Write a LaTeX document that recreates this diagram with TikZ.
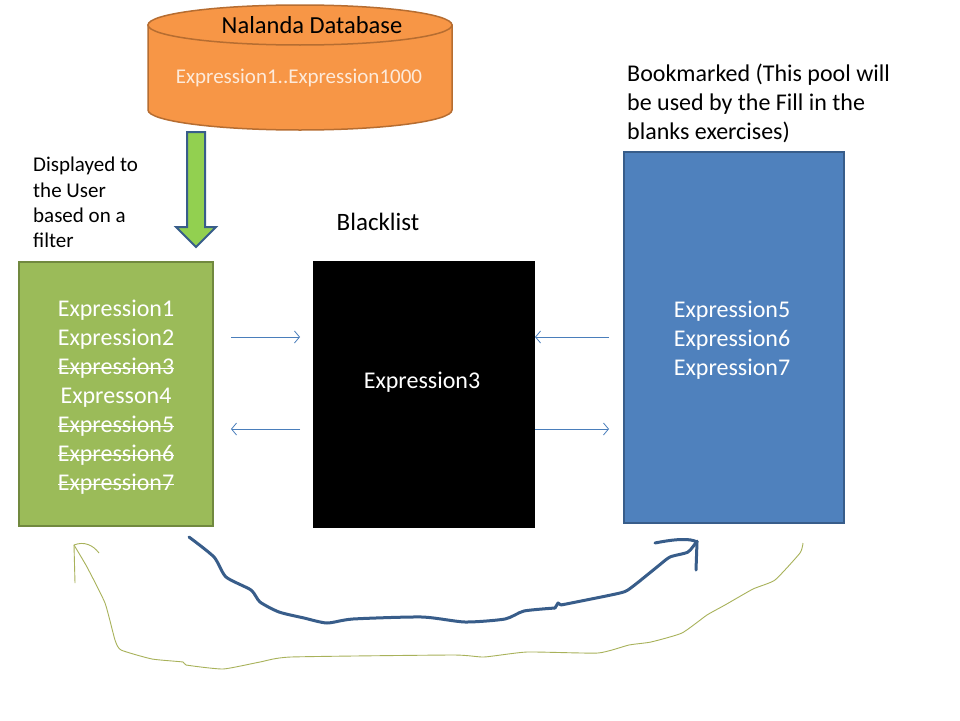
\documentclass[tikz,border=0pt]{standalone}
\usepackage{fontspec}
\setmainfont{Carlito}
\usetikzlibrary{arrows.meta}
\definecolor{cylfill}{HTML}{F79646}
\definecolor{cylline}{HTML}{B66D31}
\definecolor{cyltext}{HTML}{FDEADA}
\definecolor{grnfill}{HTML}{9BBB59}
\definecolor{grnline}{HTML}{71893F}
\definecolor{bluefill}{HTML}{4F81BD}
\definecolor{blueline}{HTML}{385D8A}
\definecolor{arrowfill}{HTML}{92D050}
\definecolor{thinarrow}{HTML}{4A7EBB}
\definecolor{olive}{HTML}{A8B25A}
\newcommand\strikeit[1]{\leavevmode\setbox0\hbox{#1}\rlap{\copy0}\rule[0.45ex]{\wd0}{1.1pt}}
\tikzset{
  box/.style={rectangle, line width=2pt, inner sep=0pt, align=center, text=white},
  big/.style={font=\fontsize{24}{29}\selectfont},
  lab/.style={font=\fontsize{21}{25.3}\selectfont, inner sep=0pt},
  thin/.style={draw=thinarrow, line width=0.8pt, -{Straight Barb[length=5pt,width=12pt]}},
}
\begin{document}
\begin{tikzpicture}[x=1pt,y=1pt]
\useasboundingbox (0,0) rectangle (960,-720);
\fill[white] (0,0) rectangle (960,-720);
% cylinder
\path[fill=cylfill, draw=cylline, line width=1.5pt] (148,-25) -- (148,-110)
  arc[start angle=180, end angle=360, x radius=152, y radius=20] -- (452,-25) -- cycle;
\path[fill=cylfill, draw=cylline, line width=1.5pt] (300,-25) ellipse [x radius=152, y radius=20];
\node[lab, font=\fontsize{24.5}{28}\selectfont] (dbtitle) at (312,-25) {Nalanda Database};
\node[lab, text=cyltext, font=\fontsize{21}{25}\selectfont] (dbtext) at (299,-78) {Expression1..Expression1000};
% green down arrow
\path[fill=arrowfill, draw=blueline, line width=2pt] (187,-132) -- (205,-132) -- (205,-227) -- (216,-227) -- (196,-247) -- (176,-227) -- (187,-227) -- cycle;
% labels
\node[lab, align=left, anchor=north west] (disp) at (33,-157) {Displayed to\\the User\\based on a\\filter};
\node[lab, font=\fontsize{25}{29}\selectfont] (black) at (378,-222) {Blacklist};
\node[lab, font=\fontsize{24}{29}\selectfont, align=left, anchor=north west] (bm) at (627,-64) {Bookmarked (This pool will\\be used by the Fill in the\\blanks exercises)};
% boxes
\node[box, big, fill=grnfill, draw=grnline, minimum width=194pt, minimum height=264pt] (green) at (116,-394) {};
\node[box, big, fill=black, draw=black, minimum width=220pt, minimum height=265pt] (blk) at (424,-394.5) {};
\node[box, big, fill=bluefill, draw=blueline, minimum width=220pt, minimum height=371pt] (blue) at (734,-337.5) {};
\node[big, text=white, align=center, anchor=north] (gtext) at (116,-296) {Expression1\\Expression2\\\strikeit{Expression3}\\Expresson4\\\strikeit{Expression5}\\\strikeit{Expression6}\\\strikeit{Expression7}};
\node[big, text=white] (btext) at (422,-382) {Expression3};
\node[big, text=white, align=center, anchor=north] (bltext) at (732,-297) {Expression5\\Expression6\\Expression7};
% thin arrows
\coordinate (a1s) at (231,-337); \coordinate (a1e) at (300,-337);
\coordinate (a2s) at (300,-429); \coordinate (a2e) at (231,-429);
\coordinate (a3s) at (609,-337); \coordinate (a3e) at (535,-337);
\coordinate (a4s) at (535,-429); \coordinate (a4e) at (609,-429);
\draw[thin] (a1s) -- (a1e);
\draw[thin] (a2s) -- (a2e);
\draw[thin] (a3s) -- (a3e);
\draw[thin] (a4s) -- (a4e);
% blue freeform
\draw[blueline, line width=3pt, line cap=round, line join=round] plot[smooth, tension=0.4] coordinates {
(189,-537) (214,-557) (226,-577) (251,-590) (260,-602) (279,-612) (304,-618) (327,-623)
(353,-619) (422,-617) (465,-622) (505,-619) (524,-611) (555,-608)};
\draw[blueline, line width=3pt, line cap=round, line join=round] (555,-608) -- (558,-603) -- (561,-605);
\draw[blueline, line width=3pt, line cap=round, line join=round] plot[smooth, tension=0.4] coordinates {
(561,-605) (620,-593) (632,-587) (657,-567) (670,-557) (688,-552) (697,-541)};
\draw[blueline, line width=3pt, line cap=round] (655,-543) .. controls (675,-539) and (690,-538) .. (697,-542) -- (696,-570);
% olive freeform
\draw[olive, line width=0.9pt, line join=round] plot[smooth, tension=0.3] coordinates {
(803,-543) (800,-553) (775,-580) (753,-589) (725,-605) (707,-615) (682,-633) (651,-642) (629,-645)
(598,-653) (527,-652) (484,-657) (453,-655) (291,-657) (260,-662) (223,-669) (186,-665) (183,-662)
(152,-659) (121,-650) (115,-640) (105,-603) (87,-567) (74,-545)};
\draw[olive, line width=0.9pt] (75,-583) -- (74,-545) .. controls (84,-541) and (93,-545) .. (99,-553);
\end{tikzpicture}
\end{document}
